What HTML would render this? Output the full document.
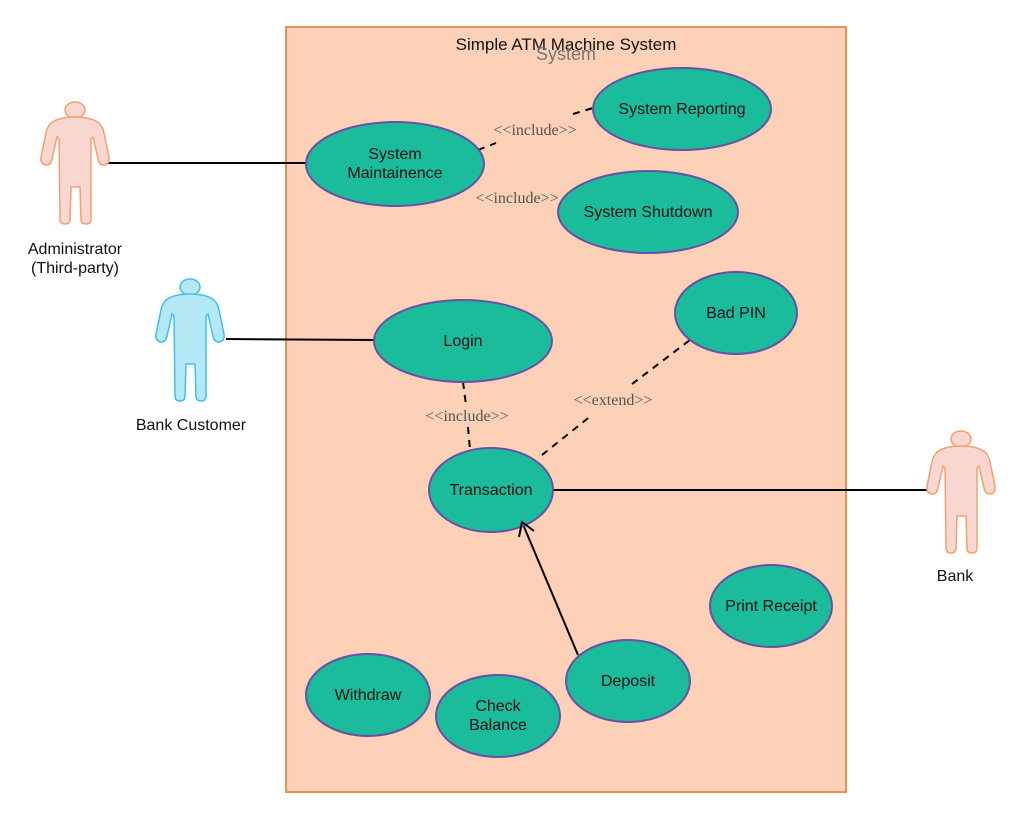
<!DOCTYPE html>
<html><head><meta charset="utf-8"><style>
html,body{margin:0;padding:0;background:#fff;}
svg{display:block;}
.u{font-family:"Liberation Sans",sans-serif;font-size:16px;fill:#111;text-anchor:middle;}
.st{font-family:"Liberation Serif",serif;font-size:16px;fill:#555;text-anchor:middle;}
</style></head><body>
<svg width="1024" height="820" viewBox="0 0 1024 820">
<defs>
<path id="act" d="M34 16 Q50 16 58 22 Q62 26 63 32 L68 56 Q69 63 63 64 Q58 64 57 58 L52 36 L50 38 L50 118 Q50 123 45 123 Q40 123 40 118 L39 86 L30 86 L29 118 Q29 123 24 123 Q19 123 19 118 L18 38 L16 36 L11 58 Q10 64 5 64 Q-1 63 0 56 L5 32 Q6 26 10 22 Q18 16 34 16 Z"/>
</defs>
<rect x="286" y="27" width="560" height="765" fill="#fcd1b7" stroke="#f28c55" stroke-width="2"/>
<text x="566" y="50" class="u" style="font-size:17px">Simple ATM Machine System</text>
<text x="566" y="60" class="u" style="font-size:18px;fill:#777">System</text>

<g stroke="#000" stroke-width="2" fill="none">
<line x1="107" y1="163" x2="306" y2="163"/>
<line x1="226" y1="339" x2="374" y2="340"/>
<line x1="553" y1="490" x2="928" y2="490"/>
<line x1="578" y1="655" x2="522" y2="522"/>
</g>
<g stroke="#000" stroke-width="2" fill="none" stroke-dasharray="7,6">
<line x1="478" y1="150" x2="496" y2="143"/>
<line x1="573" y1="114" x2="593" y2="108"/>
<line x1="463" y1="382" x2="466" y2="405"/>
<line x1="468" y1="427" x2="470" y2="450"/>
<line x1="542" y1="455" x2="592" y2="415"/>
<line x1="632" y1="384" x2="690" y2="340"/>
</g>
<text x="535" y="135" class="st">&lt;&lt;include&gt;&gt;</text>
<text x="517" y="203" class="st">&lt;&lt;include&gt;&gt;</text>
<text x="467" y="421" class="st">&lt;&lt;include&gt;&gt;</text>
<text x="613" y="405" class="st">&lt;&lt;extend&gt;&gt;</text>

<g fill="#1abc9c" stroke="#6a4fa8" stroke-width="2">
<ellipse cx="395" cy="164" rx="89" ry="42"/>
<ellipse cx="682" cy="109" rx="89" ry="41"/>
<ellipse cx="648" cy="212" rx="90" ry="41"/>
<ellipse cx="463" cy="341" rx="89" ry="41"/>
<ellipse cx="736" cy="313" rx="61" ry="41"/>
<ellipse cx="491" cy="490" rx="62" ry="42"/>
<ellipse cx="771" cy="606" rx="61" ry="41"/>
<ellipse cx="368" cy="695" rx="62" ry="41"/>
<ellipse cx="498" cy="716" rx="62" ry="41"/>
<ellipse cx="628" cy="681" rx="62" ry="41"/>
</g>
<polyline points="519,537 522,522 534,531" stroke="#000" stroke-width="2" fill="none"/>
<text x="395" y="159" class="u">System</text>
<text x="395" y="178" class="u">Maintainence</text>
<text x="682" y="114" class="u">System Reporting</text>
<text x="648" y="217" class="u">System Shutdown</text>
<text x="463" y="346" class="u">Login</text>
<text x="736" y="318" class="u">Bad PIN</text>
<text x="491" y="495" class="u">Transaction</text>
<text x="771" y="611" class="u">Print Receipt</text>
<text x="368" y="700" class="u">Withdraw</text>
<text x="498" y="711" class="u">Check</text>
<text x="498" y="730" class="u">Balance</text>
<text x="628" y="686" class="u">Deposit</text>

<g fill="#f8d7d0" stroke="#f4a070" stroke-width="1.5">
<g transform="translate(41,101)"><ellipse cx="34" cy="9" rx="10" ry="8"/><use href="#act"/></g>
<g transform="translate(927,430)"><ellipse cx="34" cy="9" rx="10" ry="8"/><use href="#act"/></g>
</g>
<g fill="#b5e8f5" stroke="#3ec1ee" stroke-width="1.5">
<g transform="translate(156,278)"><ellipse cx="34" cy="9" rx="10" ry="8"/><use href="#act"/></g>
</g>
<text x="75" y="254" class="u">Administrator</text>
<text x="75" y="273" class="u">(Third-party)</text>
<text x="191" y="430" class="u">Bank Customer</text>
<text x="955" y="581" class="u">Bank</text>
</svg>
</body></html>
